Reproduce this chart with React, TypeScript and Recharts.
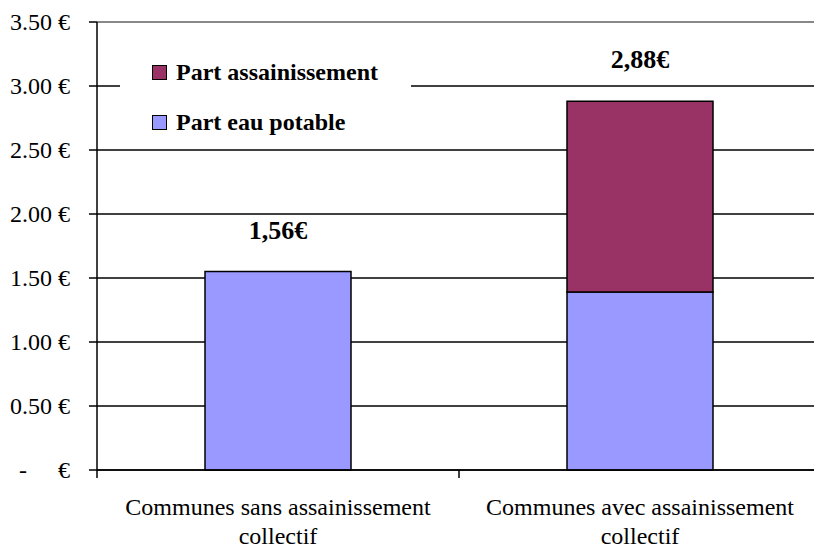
import { BarChart, Bar, XAxis, YAxis, CartesianGrid, LabelList, ReferenceLine } from 'recharts'

// prix moyen du m3 par type de commune
const categories = ['Communes sans assainissement collectif', 'Communes avec assainissement collectif']
const partEauPotable = [1.55, 1.39]
const partAssainissement: Array<number | null> = [null, 1.49]
const totalLabels = ['1,56€', '2,88€']
const yTicks = [0, 0.5, 1, 1.5, 2, 2.5, 3, 3.5]

const legendItems = [
  { name: 'Part assainissement', color: '#993366' },
  { name: 'Part eau potable', color: '#9999FF' },
]

const data = categories.map((name, i) => ({
  name,
  eau: partEauPotable[i],
  assain: partAssainissement[i],
  total: totalLabels[i],
}))

const serif = '"Liberation Serif", "Times New Roman", Times, serif'
const txt = { fontFamily: serif, fontSize: 24 }

function YTick({ x, y, payload }: any) {
  if (payload.value === 0) {
    return (
      <g style={txt} fill="#000">
        <text x={23} y={y} dy={8} textAnchor="middle">-</text>
        <text x={x} y={y} dy={8} textAnchor="end">€</text>
      </g>
    )
  }
  return (
    <text x={x} y={y} dy={8} textAnchor="end" style={txt} fill="#000">
      {payload.value.toFixed(2)} €
    </text>
  )
}

function XTick({ x, y, payload }: any) {
  const label: string = payload.value
  const cut = label.lastIndexOf(' ')
  const half = payload.offset ?? 181
  return (
    <g>
      <line x1={x - half} x2={x - half} y1={y} y2={y + 8} stroke="#000" strokeWidth={1.5} />
      <text x={x} y={y + 45} textAnchor="middle" style={txt} fill="#000">
        {label.slice(0, cut)}
      </text>
      <text x={x} y={y + 74} textAnchor="middle" style={txt} fill="#000">
        {label.slice(cut + 1)}
      </text>
    </g>
  )
}

function TotalLabel({ x, y, width, value }: any) {
  if (value == null) return null
  return (
    <text x={x + width / 2} y={y - 33} textAnchor="middle" style={{ fontFamily: serif, fontSize: 26, fontWeight: 'bold' }} fill="#000">
      {value}
    </text>
  )
}

function LegendBox() {
  return (
    <div style={{ position: 'absolute', left: 120, top: 40, width: 291, height: 100, background: '#fff', fontFamily: serif, fontWeight: 'bold', fontSize: 24 }}>
      {legendItems.map((item, i) => (
        <div key={item.name} style={{ position: 'absolute', left: 32, top: 17 + i * 50, display: 'flex', alignItems: 'center', lineHeight: '30px', whiteSpace: 'nowrap' }}>
          <span style={{ display: 'inline-block', width: 13, height: 13, background: item.color, border: '1px solid #000', marginRight: 9 }} />
          <span>{item.name}</span>
        </div>
      ))}
    </div>
  )
}

export default function App() {
  return (
    <div style={{ position: 'absolute', left: 0, top: 0, width: 814, height: 550, overflow: 'hidden', background: '#fff' }}>
      <BarChart width={821} height={550} data={data} margin={{ top: 22, right: 0, left: 0, bottom: 0 }}>
        <CartesianGrid horizontal vertical={false} stroke="#000" strokeWidth={1.5} />
        <ReferenceLine y={3.5} stroke="#888" strokeWidth={2} />
        <XAxis
          dataKey="name"
          height={80}
          tickSize={0}
          tickMargin={0}
          interval={0}
          axisLine={{ stroke: '#000', strokeWidth: 1.5 }}
          tick={<XTick />}
        />
        <YAxis
          width={97}
          domain={[0, 3.5]}
          ticks={yTicks}
          tickSize={8}
          tickMargin={19}
          axisLine={{ stroke: '#000', strokeWidth: 1.5 }}
          tickLine={{ stroke: '#000', strokeWidth: 1.5 }}
          tick={<YTick />}
        />
        <Bar dataKey="eau" name="Part eau potable" stackId="a" fill="#9999FF" stroke="#000" strokeWidth={1.5} barSize={146} isAnimationActive={false}>
          <LabelList dataKey={(d: any) => (d.assain == null ? d.total : null)} content={<TotalLabel />} />
        </Bar>
        <Bar dataKey="assain" name="Part assainissement" stackId="a" fill="#993366" stroke="#000" strokeWidth={1.5} barSize={146} isAnimationActive={false}>
          <LabelList dataKey="total" content={<TotalLabel />} />
        </Bar>
      </BarChart>
      <LegendBox />
    </div>
  )
}
